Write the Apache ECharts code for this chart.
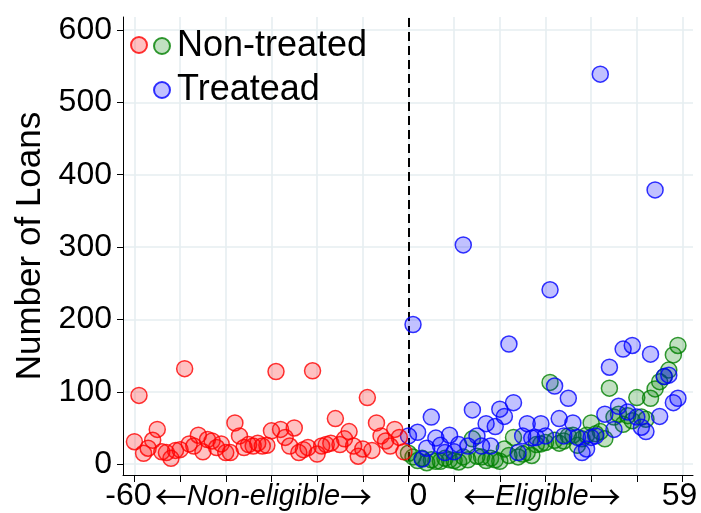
<!DOCTYPE html>
<html>
<head>
<meta charset="utf-8">
<script src="https://cdn.jsdelivr.net/npm/echarts@6/dist/echarts.min.js"></script>
<style>
html,body{margin:0;padding:0;background:#fff;}
#chart{width:701px;height:513px;}
</style>
</head>
<body>
<div id="chart"></div>
<script>
// Running variable bins
const redStart = -60;      // non-eligible bins -60 .. -1
const eligStart = 0;       // eligible bins 0 .. 59

// Non-eligible (red) number of loans, bins -60..-1
const redValues = [31,95,15,22,33,48,17,16,8,19,
                   20,132,28,25,40,17,34,32,23,28,
                   16,16,57,39,23,27,25,29,25,26,
                   46,128,48,37,25,50,16,20,23,129,
                   14,25,27,29,63,27,35,45,25,11,
                   21,92,19,57,39,32,25,48,37,17];

// Eligible, non-treated (green), bins 0..59
const greenValues = [15,10,5,8,2,6,4,4,8,6,
                     5,3,10,6,35,11,10,5,8,6,
                     4,21,12,37,10,14,16,12,27,28,
                     30,113,33,29,32,39,40,26,35,40,
                     57,42,45,35,105,65,69,55,67,60,
                     92,65,62,91,104,114,121,130,151,164];

// Eligible, treated (blue), bins 0..59
const blueValues = [39,193,44,7,22,65,36,26,16,40,
                    17,27,303,25,75,39,25,56,25,52,
                    76,66,166,85,16,39,56,36,37,56,
                    39,241,108,63,39,91,57,37,16,21,
                    37,39,539,69,134,48,80,159,72,164,
                    65,51,45,152,379,66,121,123,85,91];

const yTicks = [0,100,200,300,400,500,600];
const xTicks = [-60,-50,-40,-30,-20,-10,0,10,20,30,40,50,60];
const xLabelValues = [-60,-30,0,30,60];
const xLabelWords = {'-60':'-60','-30':'Non-eligible','0':'0','30':'Eligible','60':'59'};
const LARR = '\u2190', RARR = '\u2192';

function pairs(start, vals){ return vals.map((v,i)=>[start+i, v]); }

const FONT = "'Liberation Sans', Arial, sans-serif";
const ARROWFONT = "'Noto Sans CJK SC', 'DejaVu Sans', sans-serif";
const chart = echarts.init(document.getElementById('chart'), null, {renderer:'canvas'});

const labelRich = {
  a:{fontSize:32,fontFamily:FONT,color:'#000',padding:[0,12,0,0]},
  c:{fontSize:32,fontFamily:FONT,color:'#000',padding:[0,0,0,20]},
  e:{fontSize:32,fontFamily:FONT,color:'#000',padding:[0,6,0,0]},
  it:{fontSize:29,fontFamily:FONT,color:'#000',fontStyle:'italic',lineHeight:34},
  arL:{fontSize:32,fontFamily:ARROWFONT,color:'#000',lineHeight:34},
  arR:{fontSize:32,fontFamily:ARROWFONT,color:'#000',lineHeight:34},
  padB:{fontSize:10,padding:[0,16,0,0]},
  padD:{fontSize:10,padding:[0,7,0,0]}
};

function xLabel(v){
  const k = String(Math.round(v));
  if (k === '-60') return '{a|' + xLabelWords[k] + '}';
  if (k === '0') return '{c|' + xLabelWords[k] + '}';
  if (k === '60') return '{e|' + xLabelWords[k] + '}';
  const pad = (k === '-30') ? 'padB' : 'padD';
  return '{arL|' + LARR + '}{it|' + xLabelWords[k] + '}{arR|' + RARR + '}{' + pad + '|}';
}

const option = {
  backgroundColor:'#ffffff',
  animation:false,
  grid:{left:123,right:8,top:17,bottom:37,containLabel:false},
  xAxis:{
    type:'value', min:-62.5, max:62.3,
    axisLine:{show:true,onZero:false,lineStyle:{color:'#000',width:1}},
    axisTick:{show:true,length:7,lineStyle:{color:'#000',width:1},customValues:xTicks},
    splitLine:{show:true,lineStyle:{color:'#e6eef1',width:1.6}},
    axisLabel:{show:true,margin:5,customValues:xLabelValues,showMinLabel:true,showMaxLabel:true,
      hideOverlap:false,formatter:xLabel,
      rich:labelRich, fontSize:32, fontFamily:FONT, color:'#000'}
  },
  yAxis:{
    type:'value', min:-15, max:618,
    name:'Number of Loans', nameLocation:'middle', nameGap:73,
    nameTextStyle:{fontSize:35,fontFamily:FONT,color:'#000'},
    axisLine:{show:true,onZero:false,lineStyle:{color:'#000',width:1}},
    axisTick:{show:true,length:6,lineStyle:{color:'#000',width:1},customValues:yTicks},
    splitLine:{show:true,lineStyle:{color:'#e6eef1',width:1.6}},
    axisLabel:{show:true,margin:11,customValues:yTicks,showMinLabel:true,showMaxLabel:true,
      fontSize:32,fontFamily:FONT,color:'#000'}
  },
  legend:[
    {data:['Non-treated','Treatead'],orient:'vertical',left:153,top:26,padding:0,
     itemWidth:16,itemHeight:16,itemGap:4,selectedMode:false,icon:'circle',
     textStyle:{fontSize:36,lineHeight:40,fontFamily:FONT,color:'#000',padding:[0,0,0,2]}},
    {data:['Non-eligible'],orient:'vertical',left:130,top:25,padding:0,
     itemWidth:16,itemHeight:16,selectedMode:false,icon:'circle',
     formatter:function(){return ' ';},
     textStyle:{fontSize:36,lineHeight:40,fontFamily:FONT,color:'#000'}}
  ],
  series:[
    {name:'Non-treated',type:'scatter',symbol:'circle',symbolSize:16,z:2,
     data:pairs(eligStart,greenValues),
     itemStyle:{color:'rgba(0,128,0,0.3)',borderColor:'#008000',borderWidth:1.5}},
    {name:'Treatead',type:'scatter',symbol:'circle',symbolSize:16,z:3,
     data:pairs(eligStart,blueValues),
     itemStyle:{color:'rgba(0,0,255,0.3)',borderColor:'#0000ff',borderWidth:1.5}},
    {name:'Non-eligible',type:'scatter',symbol:'circle',symbolSize:16,z:4,
     data:pairs(redStart,redValues),
     itemStyle:{color:'rgba(255,0,0,0.3)',borderColor:'#ff0000',borderWidth:1.5},
     markLine:{silent:true,symbol:['none','none'],label:{show:false},z:1,
       lineStyle:{color:'#000',type:[9,5],width:2},
       data:[{xAxis:0}]}}
  ]
};
chart.setOption(option);
</script>
</body>
</html>
